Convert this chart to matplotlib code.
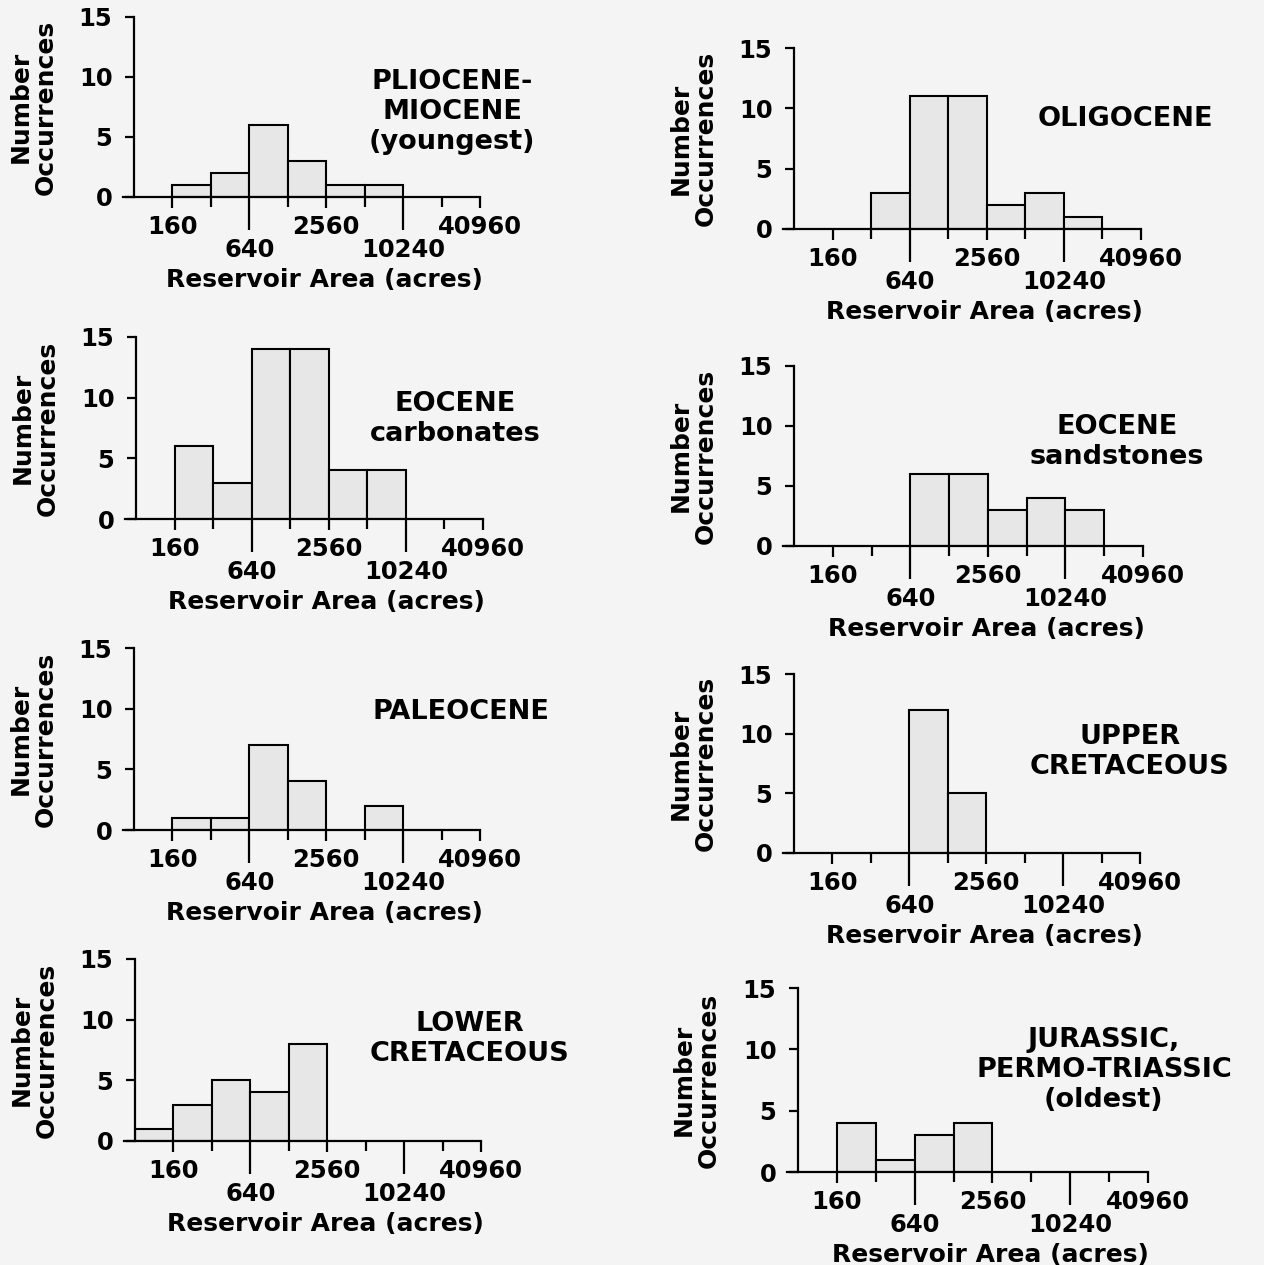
import numpy as np
import matplotlib
matplotlib.use("Agg")
import matplotlib.pyplot as plt
from matplotlib.ticker import FixedLocator, FixedFormatter, NullLocator

# ── data: reservoir-area bins (acres, factor-2 classes) ───────────────
bin_edges = [80, 160, 320, 640, 1280, 2560, 5120, 10240, 20480, 40960]

titles = [
    "PLIOCENE-\nMIOCENE\n(youngest)",
    "OLIGOCENE",
    "EOCENE\ncarbonates",
    "EOCENE\nsandstones",
    "PALEOCENE",
    "UPPER\nCRETACEOUS",
    "LOWER\nCRETACEOUS",
    "JURASSIC,\nPERMO-TRIASSIC\n(oldest)",
]

pliocene_miocene = [0, 1, 2, 6, 3, 1, 1, 0, 0]
oligocene = [0, 0, 3, 11, 11, 2, 3, 1, 0]
eocene_carbonates = [0, 6, 3, 14, 14, 4, 4, 0, 0]
eocene_sandstones = [0, 0, 0, 6, 6, 3, 4, 3, 0]
paleocene = [0, 1, 1, 7, 4, 0, 2, 0, 0]
upper_cretaceous = [0, 0, 0, 12, 5, 0, 0, 0, 0]
lower_cretaceous = [1, 3, 5, 4, 8, 0, 0, 0, 0]
jurassic_permo_triassic = [0, 4, 1, 3, 4, 0, 0, 0, 0]

counts = [pliocene_miocene, oligocene, eocene_carbonates, eocene_sandstones,
          paleocene, upper_cretaceous, lower_cretaceous, jurassic_permo_triassic]

upper_ticks = [160, 2560, 40960]
upper_labels = ["160", "2560", "40960"]
lower_ticks = [640, 10240]
lower_labels = ["640", "10240"]
minor_ticks = [320, 1280, 5120, 20480]
y_ticks = [0, 5, 10, 15]

# ── layout (pixels: left, y of 0, right, y of 15) ─────────────────────
W, H = 1264, 1265
BG = "#f4f4f4"
FILL = "#e7e7e7"
panels_px = [
    (134, 197, 480, 17),
    (794, 229, 1141, 48),
    (136, 519, 483, 337),
    (794, 546, 1143, 366),
    (134, 830, 480, 648),
    (794, 853, 1140, 674),
    (135, 1141, 481, 959),
    (798, 1172, 1148, 988),
]
title_pos = [(0.92, 0.47), (0.954, 0.61), (0.919, 0.55), (0.925, 0.575),
             (0.945, 0.65), (0.971, 0.565), (0.968, 0.56), (0.874, 0.555)]

plt.rcParams.update({
    "font.family": "DejaVu Sans",
    "font.weight": "bold",
    "axes.labelweight": "bold",
    "axes.linewidth": 1.6,
    "xtick.major.width": 1.6,
    "xtick.minor.width": 1.6,
    "ytick.major.width": 1.6,
    "text.color": "black",
})

FS_TICK = 17.5
FS_LABEL = 18
FS_TITLE = 19.5

fig = plt.figure(figsize=(W / 100, H / 100), dpi=100, facecolor=BG)

for (L, y0, R, y15), vals, title, (tx, ty) in zip(panels_px, counts, titles, title_pos):
    ax = fig.add_axes([L / W, 1 - y0 / H, (R - L) / W, (y0 - y15) / H])
    ax.set_facecolor("none")
    ax.set_xscale("log", base=2)

    left = np.array(bin_edges[:-1], dtype=float)
    width = np.diff(bin_edges).astype(float)
    v = np.array(vals)
    keep = v > 0
    ax.bar(left[keep], v[keep], width=width[keep], align="edge",
           facecolor=FILL, edgecolor="black", linewidth=1.5, zorder=2)

    ax.set_xlim(bin_edges[0], bin_edges[-1])
    ax.set_ylim(0, 15)
    for s in ("top", "right"):
        ax.spines[s].set_visible(False)
    # baseline runs out to the end of the y tick marks
    ax.spines["bottom"].set_bounds(66, bin_edges[-1])

    # upper row of labels + minor (unlabelled) ticks
    ax.xaxis.set_major_locator(FixedLocator(upper_ticks))
    ax.xaxis.set_major_formatter(FixedFormatter(upper_labels))
    ax.xaxis.set_minor_locator(FixedLocator(minor_ticks))
    ax.xaxis.set_minor_formatter(FixedFormatter([""] * len(minor_ticks)))
    ax.tick_params(axis="x", which="major", direction="out", length=8,
                   pad=5, labelsize=FS_TICK)
    ax.tick_params(axis="x", which="minor", direction="out", length=7)

    # lower row (640, 10240) with long ticks
    sec = ax.secondary_xaxis("bottom")
    sec.xaxis.set_major_locator(FixedLocator(lower_ticks))
    sec.xaxis.set_major_formatter(FixedFormatter(lower_labels))
    sec.xaxis.set_minor_locator(NullLocator())
    sec.tick_params(axis="x", direction="out", length=24, width=1.6,
                    pad=5.5, labelsize=FS_TICK)
    sec.spines["bottom"].set_visible(False)

    ax.yaxis.set_major_locator(FixedLocator(y_ticks))
    ax.tick_params(axis="y", direction="out", length=6.5, pad=9,
                   labelsize=FS_TICK)

    ax.set_xlabel("Reservoir Area (acres)", fontsize=FS_LABEL, va="center")
    ax.xaxis.set_label_coords(0.55, -83 / (y0 - y15))
    ax.set_ylabel("Number\nOccurrences", fontsize=FS_LABEL,
                  ha="center", va="center", linespacing=1.05)
    ax.yaxis.label.set_rotation_mode("default")
    ax.yaxis.set_label_coords(-0.29, 0.5)

    ax.text(tx, ty, title, transform=ax.transAxes, ha="center", va="center",
            fontsize=FS_TITLE, fontweight="bold", linespacing=1.2,
            clip_on=False)

fig.savefig("out.png", dpi=100, facecolor=BG)
